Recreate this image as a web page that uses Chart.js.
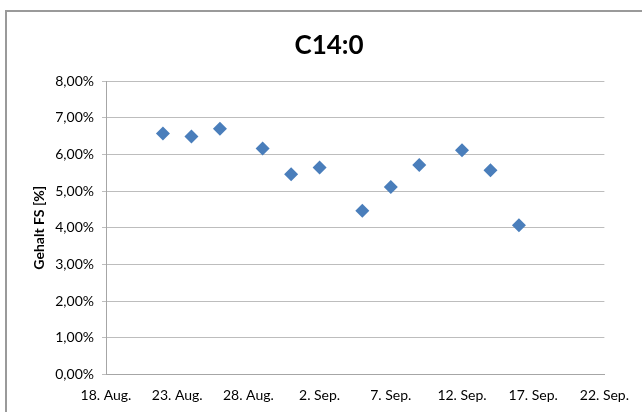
<!DOCTYPE html>
<html>
<head>
<meta charset="utf-8">
<script src="https://cdn.jsdelivr.net/npm/chart.js@4"></script>
<style>
  html, body { margin: 0; padding: 0; background: #fff; overflow: hidden; }
  #wrap { position: relative; width: 642px; height: 412px; }
  #frame { position: absolute; left: 5px; top: 10px; width: 700px; height: 500px;
           border-left: 2px solid #9a9a9a; border-top: 2px solid #9a9a9a; box-sizing: border-box; }
  canvas { position: absolute; left: 0; top: 0; }
</style>
</head>
<body>
<div id="wrap">
  <div id="frame"></div>
  <canvas id="c" width="642" height="412"></canvas>
</div>
<script>
// Data
const startDate = '2013-08-18';
const endDate = '2013-09-22';
const sampleDates = ['2013-08-22','2013-08-24','2013-08-26','2013-08-29','2013-08-31','2013-09-02',
                     '2013-09-05','2013-09-07','2013-09-09','2013-09-12','2013-09-14','2013-09-16'];
const c14Values = [6.57, 6.49, 6.70, 6.16, 5.46, 5.64, 4.46, 5.11, 5.71, 6.11, 5.57, 4.07];
const xTickLabels = ['18. Aug.','23. Aug.','28. Aug.','2. Sep.','7. Sep.','12. Sep.','17. Sep.','22. Sep.'];
const yTicks = [0,1,2,3,4,5,6,7,8];
const titleText = 'C14:0';
const yAxisTitle = 'Gehalt FS [%]';

const DAY = 86400000;
const dayIndex = s => Math.round((Date.parse(s) - Date.parse(startDate)) / DAY);
const xMax = dayIndex(endDate);
const points = sampleDates.map((d, i) => ({ x: dayIndex(d), y: c14Values[i] }));

const FONT = 'Lato, "Open Sans", "Liberation Sans", sans-serif';

const titlePlugin = {
  id: 'fixedTitle',
  afterDraw(chart) {
    const ctx = chart.ctx;
    ctx.save();
    ctx.font = 'bold 26px ' + FONT;
    ctx.fillStyle = '#000';
    ctx.textAlign = 'center';
    ctx.textBaseline = 'middle';
    ctx.fillText(titleText, 329, 46);
    ctx.restore();
  }
};

new Chart(document.getElementById('c'), {
  type: 'scatter',
  data: {
    datasets: [{
      label: 'C14:0',
      data: points,
      pointStyle: 'rectRot',
      pointRadius: 7,
      pointHoverRadius: 7,
      backgroundColor: '#4a7ebb',
      borderColor: '#4a7ebb',
      borderWidth: 0
    }]
  },
  plugins: [titlePlugin],
  options: {
    responsive: false,
    animation: false,
    devicePixelRatio: 1,
    layout: { padding: { left: 31, right: 37, top: 81, bottom: 0 } },
    plugins: {
      legend: { display: false },
      tooltip: { enabled: false },
      title: { display: false }
    },
    scales: {
      x: {
        type: 'linear',
        min: 0,
        max: xMax,
        afterBuildTicks: s => { s.ticks = xTickLabels.map((_, i) => ({ value: i * 5 })); },
        afterFit: s => { s.height = 37.5; },
        ticks: {
          autoSkip: false,
          maxRotation: 0,
          padding: 13,
          color: '#000',
          font: { family: FONT, size: 14 },
          callback: (v) => xTickLabels[Math.round(v / 5)]
        },
        grid: { display: false, drawTicks: false },
        border: { display: true, color: '#a6a6a6', width: 1 }
      },
      y: {
        min: 0,
        max: 8,
        afterBuildTicks: s => { s.ticks = yTicks.map(v => ({ value: v })); },
        afterFit: s => { s.width = 75; },
        title: {
          display: true,
          text: yAxisTitle,
          color: '#000',
          font: { family: FONT, size: 14, weight: 'bold' },
          padding: { top: 0, bottom: 2 }
        },
        ticks: {
          padding: 8,
          color: '#000',
          font: { family: FONT, size: 14 },
          callback: v => v.toFixed(2).replace('.', ',') + '%'
        },
        grid: { color: '#bdbdbd', lineWidth: 1, drawTicks: true, tickLength: 4 },
        border: { display: true, color: '#a6a6a6', width: 1 }
      }
    }
  }
});
</script>
</body>
</html>
